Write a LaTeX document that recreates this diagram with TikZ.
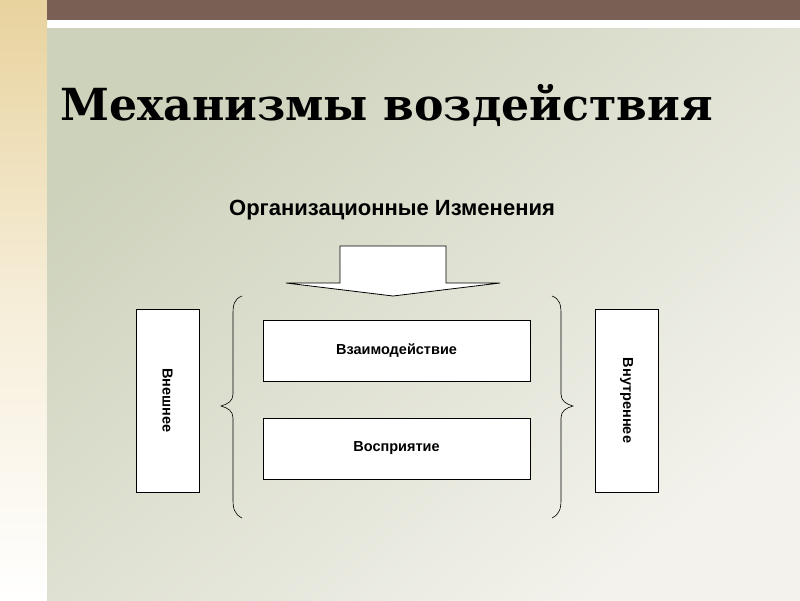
\documentclass[tikz,border=0pt]{standalone}
\usepackage{fontspec}
\setmainfont{DejaVu Serif}
\newfontfamily\arialfont{Liberation Sans}
\usetikzlibrary{shapes.geometric}
\definecolor{brownbar}{HTML}{7A5F55}
\definecolor{tan}{HTML}{E8D39E}
\definecolor{bgA}{HTML}{CDD2BB}
\definecolor{bgB}{HTML}{F3F2EC}
\tikzset{
  whitebox/.style={draw=black, line width=0.8pt, fill=white},
  boxtext/.style={font=\arialfont\bfseries\fontsize{14.5}{17}\selectfont},
  brace/.style={draw=black, line width=0.6pt},
}
\begin{document}
\begin{tikzpicture}[x=1pt,y=-1pt]
\useasboundingbox (0,0) rectangle (800,600);
% backgrounds
\fill[white] (0,0) rectangle (800,600);
\shade[top color=tan, bottom color=white, middle color=tan!40!white] (0,0) rectangle (47,600);
\fill[brownbar] (47,0) rectangle (800,20);
\shade[top color=bgA, bottom color=bgB, shading angle=40] (47,28) rectangle (800,600);
% title
\node[anchor=base west, font=\bfseries\fontsize{44.2}{50}\selectfont, inner sep=0] (title) at (60,120) {Механизмы воздействия};
% subtitle
\node[font=\arialfont\bfseries\fontsize{22}{26}\selectfont, inner sep=0] (sub) at (392,210) {Организационные Изменения};
% arrow
\draw[fill=white, line width=0.8pt] (340,246) -- (446,246) -- (446,283) -- (500,283) -- (393,296) -- (286,283) -- (340,283) -- cycle;
\coordinate (arrowtip) at (393,296);
% side boxes
\node[whitebox, minimum width=63pt, minimum height=183pt, inner sep=0] (ext) at (167.5,400.5) {};
\node[boxtext, rotate=-90] at (ext.center) {Внешнее};
\node[whitebox, minimum width=63pt, minimum height=183pt, inner sep=0] (int) at (626.5,400.5) {};
\node[boxtext, rotate=-90] at (int.center) {Внутреннее};
% middle boxes
\node[whitebox, boxtext, minimum width=267pt, minimum height=61pt, inner sep=0] (inter) at (396.5,350.5) {Взаимодействие};
\node[whitebox, boxtext, minimum width=267pt, minimum height=61pt, inner sep=0] (perc) at (396.5,448.5) {Восприятие};
% left brace
\draw[brace] (242,296) .. controls (234,299) and (233,305) .. (233,314) -- (233,394) .. controls (233,401) and (228,404) .. (221,406) .. controls (228,408) and (233,411) .. (233,418) -- (233,499) .. controls (233,508) and (234,514) .. (242,518);
% right brace
\draw[brace] (552,296) .. controls (560,299) and (561,305) .. (561,314) -- (561,394) .. controls (561,401) and (566,404) .. (573,406) .. controls (566,408) and (561,411) .. (561,418) -- (561,499) .. controls (561,508) and (560,514) .. (552,518);
\end{tikzpicture}
\end{document}
